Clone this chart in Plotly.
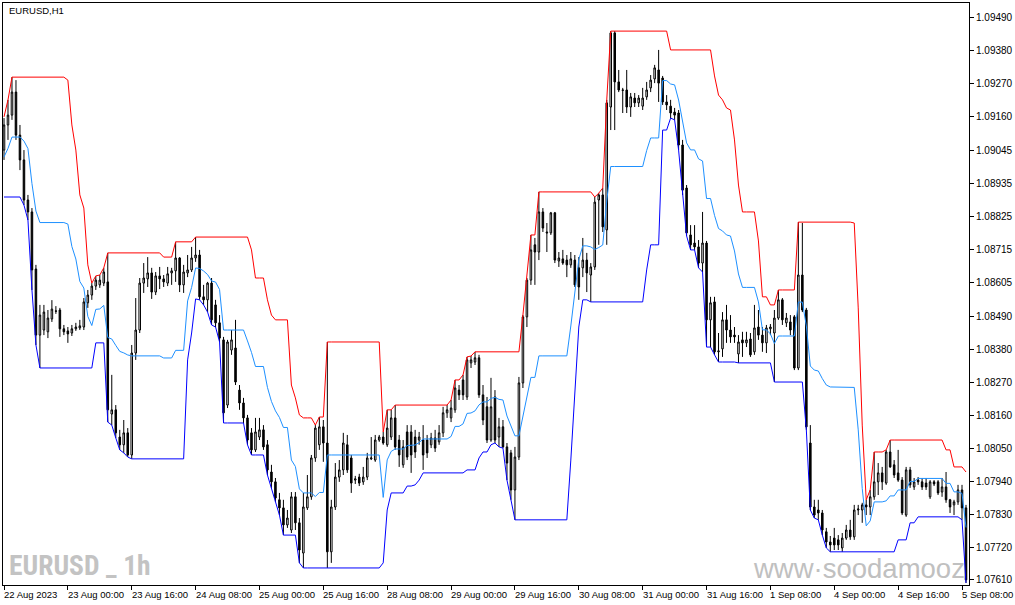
import numpy as np
import pandas as pd
import plotly.graph_objects as go

# ---------------- data (EURUSD, H1) ----------------
open_ = [
    1.09048, 1.09132, 1.09165, 1.09242, 1.09098, 1.09015, 1.08881, 1.08841, 1.08650, 1.08429,
    1.08446, 1.08440, 1.08483, 1.08510, 1.08513, 1.08450, 1.08443, 1.08436, 1.08450, 1.08453,
    1.08456, 1.08537, 1.08563, 1.08593, 1.08597, 1.08603, 1.08607, 1.08165, 1.08179, 1.08088,
    1.08062, 1.08102, 1.08028, 1.08369, 1.08446, 1.08603, 1.08617, 1.08637, 1.08573, 1.08627,
    1.08617, 1.08603, 1.08637, 1.08644, 1.08687, 1.08597, 1.08637, 1.08647, 1.08687, 1.08697,
    1.08557, 1.08547, 1.08603, 1.08530, 1.08470, 1.08413, 1.08195, 1.08379, 1.08386, 1.08245,
    1.08202, 1.08152, 1.08102, 1.08045, 1.08088, 1.08112, 1.08062, 1.07971, 1.07938, 1.07878,
    1.07851, 1.07794, 1.07777, 1.07888, 1.07801, 1.07700, 1.07851, 1.07888, 1.08018, 1.08062,
    1.08122, 1.08068, 1.07704, 1.07854, 1.07954, 1.07978, 1.08062, 1.08018, 1.07944, 1.07954,
    1.07938, 1.07954, 1.08015, 1.08011, 1.08078, 1.08088, 1.08062, 1.08088, 1.08152, 1.08078,
    1.07995, 1.08105, 1.08105, 1.08088, 1.08078, 1.08078, 1.08078, 1.08062, 1.08085, 1.08072,
    1.08102, 1.08169, 1.08152, 1.08179, 1.08245, 1.08279, 1.08222, 1.08336, 1.08339, 1.08353,
    1.08229, 1.08189, 1.08078, 1.08222, 1.08088, 1.08122, 1.08055, 1.08035, 1.07911, 1.08021,
    1.08269, 1.08490, 1.08613, 1.08731, 1.08707, 1.08841, 1.08774, 1.08771, 1.08838, 1.08677,
    1.08684, 1.08680, 1.08664, 1.08680, 1.08654, 1.08654, 1.08680, 1.08630, 1.08657, 1.08881,
    1.08898, 1.08781, 1.09192, 1.09440, 1.09276, 1.09249, 1.09249, 1.09192, 1.09222, 1.09206,
    1.09195, 1.09226, 1.09256, 1.09286, 1.09316, 1.09289, 1.09209, 1.09195, 1.09175, 1.09172,
    1.09065, 1.08921, 1.08764, 1.08737, 1.08724, 1.08670, 1.08737, 1.08480, 1.08540, 1.08373,
    1.08383, 1.08480, 1.08446, 1.08429, 1.08366, 1.08413, 1.08403, 1.08416, 1.08373, 1.08456,
    1.08429, 1.08403, 1.08450, 1.08436, 1.08486, 1.08547, 1.08470, 1.08473, 1.08490, 1.08319,
    1.08630, 1.08513, 1.08068, 1.07854, 1.07844, 1.07834, 1.07771, 1.07737, 1.07750, 1.07744,
    1.07717, 1.07750, 1.07777, 1.07754, 1.07844, 1.07844, 1.07861, 1.07854, 1.07888, 1.07938,
    1.07968, 1.07934, 1.08038, 1.07995, 1.07968, 1.07944, 1.07827, 1.07978, 1.07921, 1.07944,
    1.07938, 1.07934, 1.07888, 1.07938, 1.07938, 1.07904, 1.07921, 1.07878, 1.07861, 1.07871,
    1.07911, 1.07851,
]
high = [
    1.09155, 1.09216, 1.09292, 1.09282, 1.09132, 1.09048, 1.08898, 1.08854, 1.08664, 1.08530,
    1.08530, 1.08513, 1.08546, 1.08526, 1.08520, 1.08463, 1.08456, 1.08463, 1.08470, 1.08480,
    1.08553, 1.08580, 1.08603, 1.08627, 1.08630, 1.08654, 1.08704, 1.08296, 1.08195, 1.08112,
    1.08145, 1.08118, 1.08396, 1.08553, 1.08620, 1.08670, 1.08690, 1.08654, 1.08640, 1.08657,
    1.08630, 1.08657, 1.08654, 1.08741, 1.08690, 1.08664, 1.08697, 1.08724, 1.08757, 1.08714,
    1.08597, 1.08607, 1.08620, 1.08547, 1.08496, 1.08423, 1.08413, 1.08446, 1.08480, 1.08262,
    1.08219, 1.08162, 1.08118, 1.08152, 1.08152, 1.08128, 1.08078, 1.07995, 1.07951, 1.07901,
    1.07878, 1.07844, 1.07904, 1.07904, 1.07817, 1.07901, 1.07961, 1.08028, 1.08128, 1.08155,
    1.08145, 1.08406, 1.07878, 1.08001, 1.08011, 1.08102, 1.08095, 1.08028, 1.07958, 1.07965,
    1.07988, 1.08035, 1.08088, 1.08095, 1.08095, 1.08105, 1.08179, 1.08179, 1.08195, 1.08095,
    1.08078, 1.08128, 1.08128, 1.08112, 1.08105, 1.08128, 1.08095, 1.08102, 1.08112, 1.08128,
    1.08189, 1.08195, 1.08212, 1.08279, 1.08262, 1.08296, 1.08356, 1.08359, 1.08373, 1.08363,
    1.08262, 1.08222, 1.08286, 1.08245, 1.08152, 1.08145, 1.08068, 1.08045, 1.08055, 1.08289,
    1.08496, 1.08620, 1.08764, 1.08754, 1.08908, 1.08854, 1.08804, 1.08841, 1.08841, 1.08707,
    1.08714, 1.08697, 1.08707, 1.08697, 1.08690, 1.08754, 1.08704, 1.08670, 1.08891, 1.08904,
    1.08921, 1.09216, 1.09446, 1.09446, 1.09316, 1.09256, 1.09316, 1.09239, 1.09239, 1.09232,
    1.09256, 1.09276, 1.09299, 1.09333, 1.09383, 1.09296, 1.09232, 1.09216, 1.09189, 1.09182,
    1.09082, 1.08931, 1.08797, 1.08797, 1.08747, 1.08841, 1.08744, 1.08557, 1.08557, 1.08436,
    1.08506, 1.08530, 1.08496, 1.08456, 1.08429, 1.08440, 1.08440, 1.08436, 1.08530, 1.08513,
    1.08456, 1.08463, 1.08466, 1.08513, 1.08580, 1.08553, 1.08503, 1.08496, 1.08496, 1.08807,
    1.08804, 1.08520, 1.08128, 1.07878, 1.07878, 1.07844, 1.07784, 1.07757, 1.07784, 1.07760,
    1.07767, 1.07794, 1.07811, 1.07861, 1.07861, 1.07868, 1.07878, 1.07911, 1.08038, 1.08001,
    1.07988, 1.08045, 1.08078, 1.08011, 1.08045, 1.07954, 1.07988, 1.07988, 1.07951, 1.07954,
    1.07951, 1.07951, 1.07944, 1.07944, 1.07944, 1.07951, 1.07971, 1.07881, 1.07878, 1.07928,
    1.07928, 1.07861,
]
low = [
    1.09015, 1.09082, 1.09149, 1.09082, 1.08981, 1.08864, 1.08814, 1.08580, 1.08396, 1.08319,
    1.08429, 1.08419, 1.08473, 1.08500, 1.08423, 1.08429, 1.08403, 1.08426, 1.08443, 1.08446,
    1.08446, 1.08520, 1.08547, 1.08580, 1.08587, 1.08593, 1.08138, 1.08128, 1.08085, 1.08045,
    1.08035, 1.08021, 1.08015, 1.08346, 1.08436, 1.08570, 1.08590, 1.08550, 1.08563, 1.08583,
    1.08590, 1.08593, 1.08597, 1.08607, 1.08573, 1.08570, 1.08623, 1.08640, 1.08674, 1.08547,
    1.08530, 1.08506, 1.08463, 1.08456, 1.08406, 1.08135, 1.08185, 1.08363, 1.08262, 1.08179,
    1.08135, 1.08062, 1.08028, 1.08038, 1.08078, 1.08045, 1.07961, 1.07918, 1.07871, 1.07827,
    1.07760, 1.07784, 1.07767, 1.07777, 1.07667, 1.07650, 1.07844, 1.07878, 1.08005, 1.08045,
    1.08005, 1.07650, 1.07667, 1.07844, 1.07938, 1.07961, 1.07968, 1.07901, 1.07931, 1.07924,
    1.07928, 1.07944, 1.08011, 1.08005, 1.08072, 1.08062, 1.08055, 1.08078, 1.08045, 1.07988,
    1.07985, 1.08011, 1.07968, 1.08018, 1.08062, 1.07978, 1.08018, 1.08051, 1.08038, 1.08062,
    1.08088, 1.08152, 1.08138, 1.08169, 1.08212, 1.08212, 1.08212, 1.08319, 1.08329, 1.08219,
    1.08128, 1.08068, 1.08072, 1.08068, 1.08055, 1.08051, 1.07944, 1.07878, 1.07811, 1.08011,
    1.08252, 1.08456, 1.08597, 1.08597, 1.08680, 1.08774, 1.08707, 1.08764, 1.08670, 1.08657,
    1.08664, 1.08623, 1.08654, 1.08590, 1.08547, 1.08623, 1.08573, 1.08540, 1.08647, 1.08731,
    1.08774, 1.08731, 1.09115, 1.09115, 1.09242, 1.09172, 1.09172, 1.09159, 1.09192, 1.09192,
    1.09182, 1.09216, 1.09242, 1.09272, 1.09209, 1.09199, 1.09182, 1.09155, 1.09149, 1.09048,
    1.08898, 1.08761, 1.08714, 1.08714, 1.08654, 1.08640, 1.08389, 1.08389, 1.08363, 1.08339,
    1.08356, 1.08403, 1.08403, 1.08403, 1.08336, 1.08356, 1.08389, 1.08356, 1.08363, 1.08413,
    1.08373, 1.08369, 1.08429, 1.08272, 1.08480, 1.08463, 1.08456, 1.08429, 1.08312, 1.08312,
    1.08506, 1.08112, 1.07844, 1.07817, 1.07811, 1.07760, 1.07717, 1.07704, 1.07710, 1.07710,
    1.07704, 1.07744, 1.07744, 1.07744, 1.07827, 1.07801, 1.07827, 1.07827, 1.07878, 1.07894,
    1.07911, 1.07928, 1.07985, 1.07951, 1.07938, 1.07827, 1.07821, 1.07918, 1.07911, 1.07928,
    1.07911, 1.07911, 1.07881, 1.07924, 1.07894, 1.07888, 1.07868, 1.07834, 1.07827, 1.07861,
    1.07811, 1.07600,
]
close = [
    1.09132, 1.09165, 1.09242, 1.09098, 1.09015, 1.08881, 1.08841, 1.08647, 1.08429, 1.08496,
    1.08506, 1.08486, 1.08516, 1.08509, 1.08450, 1.08440, 1.08433, 1.08450, 1.08456, 1.08460,
    1.08540, 1.08563, 1.08593, 1.08613, 1.08613, 1.08640, 1.08179, 1.08179, 1.08102, 1.08062,
    1.08102, 1.08028, 1.08369, 1.08446, 1.08603, 1.08620, 1.08637, 1.08573, 1.08627, 1.08617,
    1.08607, 1.08634, 1.08644, 1.08687, 1.08597, 1.08640, 1.08647, 1.08687, 1.08697, 1.08557,
    1.08547, 1.08603, 1.08480, 1.08470, 1.08419, 1.08169, 1.08406, 1.08413, 1.08272, 1.08202,
    1.08152, 1.08078, 1.08045, 1.08105, 1.08112, 1.08055, 1.07978, 1.07938, 1.07884, 1.07851,
    1.07794, 1.07817, 1.07888, 1.07801, 1.07710, 1.07854, 1.07888, 1.08018, 1.08118, 1.08122,
    1.08068, 1.07704, 1.07854, 1.07954, 1.07978, 1.08068, 1.07978, 1.07934, 1.07948, 1.07934,
    1.07954, 1.08018, 1.08018, 1.08078, 1.08088, 1.08068, 1.08118, 1.08152, 1.08055, 1.08028,
    1.08055, 1.08021, 1.08028, 1.08038, 1.08088, 1.08028, 1.08035, 1.08085, 1.08051, 1.08102,
    1.08169, 1.08179, 1.08185, 1.08252, 1.08229, 1.08229, 1.08346, 1.08346, 1.08353, 1.08229,
    1.08145, 1.08078, 1.08189, 1.08078, 1.08122, 1.08055, 1.08001, 1.07911, 1.08021, 1.08269,
    1.08490, 1.08613, 1.08714, 1.08707, 1.08841, 1.08787, 1.08771, 1.08838, 1.08680, 1.08687,
    1.08670, 1.08664, 1.08684, 1.08597, 1.08590, 1.08680, 1.08637, 1.08657, 1.08874, 1.08898,
    1.08791, 1.09206, 1.09440, 1.09276, 1.09249, 1.09248, 1.09192, 1.09226, 1.09206, 1.09222,
    1.09222, 1.09249, 1.09282, 1.09323, 1.09272, 1.09209, 1.09199, 1.09172, 1.09165, 1.09065,
    1.08914, 1.08771, 1.08731, 1.08724, 1.08670, 1.08737, 1.08480, 1.08537, 1.08373, 1.08376,
    1.08480, 1.08446, 1.08423, 1.08423, 1.08406, 1.08403, 1.08413, 1.08363, 1.08453, 1.08429,
    1.08403, 1.08453, 1.08456, 1.08486, 1.08547, 1.08480, 1.08486, 1.08446, 1.08319, 1.08630,
    1.08513, 1.08122, 1.07854, 1.07827, 1.07834, 1.07777, 1.07737, 1.07727, 1.07727, 1.07727,
    1.07750, 1.07777, 1.07754, 1.07844, 1.07847, 1.07861, 1.07854, 1.07888, 1.07938, 1.07968,
    1.07938, 1.08038, 1.07988, 1.07961, 1.07944, 1.07834, 1.07978, 1.07928, 1.07938, 1.07938,
    1.07921, 1.07921, 1.07938, 1.07931, 1.07901, 1.07921, 1.07878, 1.07854, 1.07871, 1.07911,
    1.07851, 1.07610,
]
# highs / lows of the bars just before the visible window (feed the channel's first values)
prior_high = [1.09082, 1.09048, 1.09065, 1.09098, 1.09048, 1.09082, 1.09115,
              1.09132, 1.09149, 1.09159, 1.09132, 1.09155, 1.09149]
prior_low = [1.08931, 1.08914, 1.08948, 1.08965, 1.08891, 1.08931, 1.08981,
             1.08998, 1.09015, 1.09032, 1.09022, 1.09048, 1.09032]

date_labels = ["22 Aug 2023", "23 Aug 00:00", "23 Aug 16:00", "24 Aug 08:00",
               "25 Aug 00:00", "25 Aug 16:00", "28 Aug 08:00", "29 Aug 00:00",
               "29 Aug 16:00", "30 Aug 08:00", "31 Aug 00:00", "31 Aug 16:00",
               "1 Sep 08:00", "4 Sep 00:00", "4 Sep 16:00", "5 Sep 08:00"]
price_ticks = [1.09490, 1.09380, 1.09270, 1.09160, 1.09045, 1.08935, 1.08825,
               1.08715, 1.08605, 1.08490, 1.08380, 1.08270, 1.08160, 1.08050,
               1.07940, 1.07830, 1.07720, 1.07610]
channel_period = 14
bars_per_label = 16

# ---------------- Donchian channel from the bars ----------------
n_prior = len(prior_high)
h_all = pd.Series(prior_high + high)
l_all = pd.Series(prior_low + low)
upper = h_all.rolling(channel_period, min_periods=1).max().to_numpy()[n_prior:]
lower = l_all.rolling(channel_period, min_periods=1).min().to_numpy()[n_prior:]
middle = (upper + lower) / 2.0
x = np.arange(len(close))
tick_idx = x[::bars_per_label][:len(date_labels)]

# ---------------- figure ----------------
W, H = 1015, 605
ML, MR, MT, MB = 2, 45, 3, 20
PW, PH = W - ML - MR, H - MT - MB


def px(xp):
    return (xp - ML) / PW


def py(yp):
    return (H - MB - yp) / PH


FONT = "Liberation Sans, Arial, sans-serif"

fig = go.Figure()
fig.add_trace(go.Candlestick(
    x=x, open=open_, high=high, low=low, close=close,
    increasing=dict(line=dict(color="black", width=1), fillcolor="white"),
    decreasing=dict(line=dict(color="black", width=1), fillcolor="black"),
    whiskerwidth=0, hoverinfo="skip", showlegend=False,
))
fig.add_trace(go.Scatter(x=x, y=upper, mode="lines", line=dict(color="#ff0000", width=1),
                         hoverinfo="skip", showlegend=False))
fig.add_trace(go.Scatter(x=x, y=lower, mode="lines", line=dict(color="#0000ff", width=1),
                         hoverinfo="skip", showlegend=False))
fig.add_trace(go.Scatter(x=x, y=middle, mode="lines", line=dict(color="#1e90ff", width=1),
                         hoverinfo="skip", showlegend=False))

annotations = []
for t, lab in zip(tick_idx, date_labels):
    annotations.append(dict(x=int(t), y=0, xref="x", yref="paper", text=lab,
                            showarrow=False, xanchor="left", yanchor="top",
                            xshift=-2, yshift=-2,
                            font=dict(family=FONT, size=9.5, color="black")))
annotations.append(dict(x=px(6), y=py(11), xref="paper", yref="paper", text="EURUSD,H1",
                        showarrow=False, xanchor="left", yanchor="middle",
                        font=dict(family=FONT, size=9.5, color="black")))
annotations.append(dict(x=px(6), y=py(565), xref="paper", yref="paper", text="<b>EURUSD _ 1h</b>",
                        showarrow=False, xanchor="left", yanchor="middle",
                        font=dict(family="Liberation Sans Narrow, Roboto Condensed, Liberation Sans, sans-serif",
                                  size=27.5, color="#c3c3c3")))
annotations.append(dict(x=px(752), y=py(568), xref="paper", yref="paper", text="www·soodamooz",
                        showarrow=False, xanchor="left", yanchor="middle",
                        font=dict(family=FONT, size=27.5, color="#c0c0c0")))

fig.update_layout(
    width=W, height=H,
    margin=dict(l=ML, r=MR, t=MT, b=MB, pad=0),
    paper_bgcolor="white", plot_bgcolor="white",
    showlegend=False, boxgap=0.45,
    annotations=annotations,
    xaxis=dict(range=[-0.25, len(close) - 0.25], showgrid=False, zeroline=False,
               showline=True, linecolor="black", linewidth=1, mirror=True,
               ticks="outside", ticklen=4, tickcolor="black", tickwidth=1,
               tickvals=tick_idx, showticklabels=False,
               rangeslider=dict(visible=False), fixedrange=True),
    yaxis=dict(side="right", range=[1.07593, 1.09540], showgrid=False, zeroline=False,
               showline=True, linecolor="black", linewidth=1, mirror=True,
               ticks="outside", ticklen=4, tickcolor="black", tickwidth=1,
               tickvals=price_ticks, ticktext=[f"{v:.5f}" for v in price_ticks],
               tickfont=dict(family=FONT, size=10, color="black"), fixedrange=True),
)

fig.write_html("out.html", config={"displayModeBar": False},
               post_script="document.body.style.margin='0';")
